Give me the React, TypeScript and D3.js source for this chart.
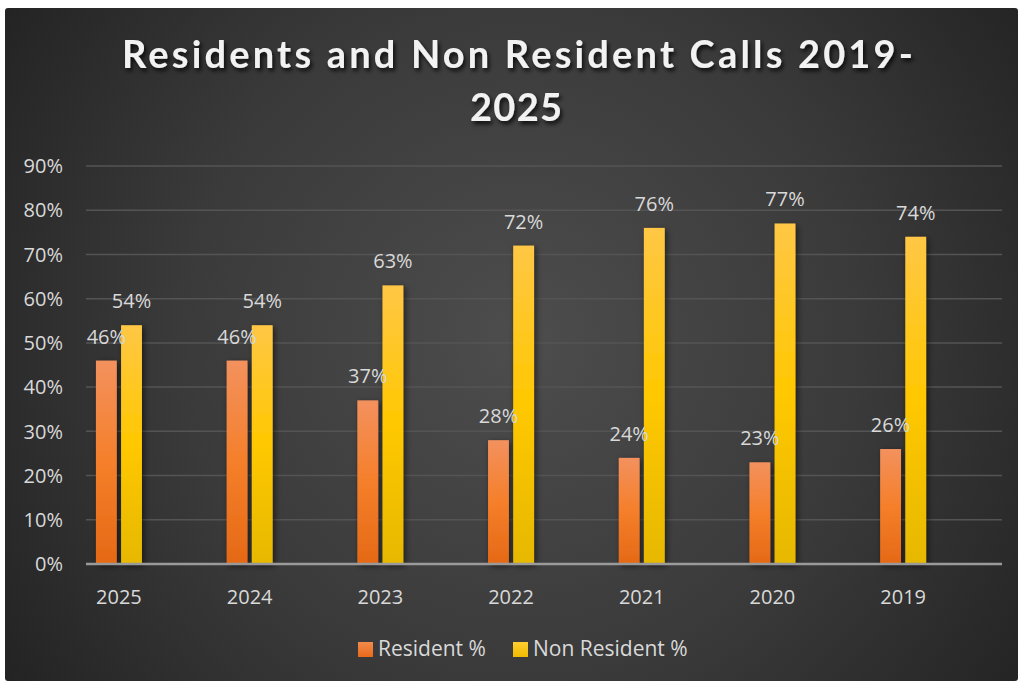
import React from "react";
import * as d3 from "d3";

const years = ["2025", "2024", "2023", "2022", "2021", "2020", "2019"];
const residentPct = [46, 46, 37, 28, 24, 23, 26];
const nonResidentPct = [54, 54, 63, 72, 76, 77, 74];
const yTicks = [0, 10, 20, 30, 40, 50, 60, 70, 80, 90];
const seriesNames = ["Resident %", "Non Resident %"];
const titleLines = ["Residents and Non Resident Calls 2019-", "2025"];

const W = 1018;
const H = 681;
const FONT = "'Open Sans', Lato, sans-serif";
const TITLE_FONT = "Lato, 'Open Sans', sans-serif";

export default function App() {
  const plotLeft = 86;
  const plotRight = 1002;
  const y = d3.scaleLinear().domain([0, 90]).range([564, 166]);
  const x = d3.scaleBand<string>().domain(years).range([53.6, 53.6 + 7 * 130.7]).padding(0);
  const sub = d3.scaleBand<string>().domain(["res", "non"]).range([-23, 23]).paddingInner(0.17);
  const series = [
    { key: "res", values: residentPct, grad: "url(#gRes)" },
    { key: "non", values: nonResidentPct, grad: "url(#gNon)" },
  ];
  const center = (yr: string) => (x(yr) as number) + x.bandwidth() / 2;

  return (
    <svg width={W} height={H} style={{ position: "absolute", left: 0, top: 0 }} fontFamily={FONT}>
      <defs>
        <radialGradient id="bg" gradientUnits="userSpaceOnUse" cx={520} cy={340} r={620}>
          <stop offset="0" stopColor="#4d4d4d" />
          <stop offset="0.55" stopColor="#3a3a3a" />
          <stop offset="1" stopColor="#232323" />
        </radialGradient>
        <linearGradient id="gRes" x1="0" y1="0" x2="0" y2="1">
          <stop offset="0" stopColor="#f3915e" />
          <stop offset="0.5" stopColor="#f57f2a" />
          <stop offset="1" stopColor="#e56916" />
        </linearGradient>
        <linearGradient id="gNon" x1="0" y1="0" x2="0" y2="1">
          <stop offset="0" stopColor="#ffc745" />
          <stop offset="0.5" stopColor="#ffc800" />
          <stop offset="1" stopColor="#e6b800" />
        </linearGradient>
        <linearGradient id="lRes" x1="0" y1="0" x2="0" y2="1">
          <stop offset="0" stopColor="#f48a4c" />
          <stop offset="1" stopColor="#e86a1a" />
        </linearGradient>
        <linearGradient id="lNon" x1="0" y1="0" x2="0" y2="1">
          <stop offset="0" stopColor="#ffcf30" />
          <stop offset="1" stopColor="#f0bb00" />
        </linearGradient>
        <filter id="barShadow" x="-50%" y="-10%" width="200%" height="120%">
          <feDropShadow dx="2" dy="2" stdDeviation="3" floodColor="#000" floodOpacity="0.55" />
        </filter>
        <filter id="titleShadow" x="-10%" y="-30%" width="120%" height="160%">
          <feDropShadow dx="2" dy="3" stdDeviation="2" floodColor="#000" floodOpacity="0.8" />
        </filter>
      </defs>

      <rect x={0} y={0} width={W} height={H} fill="#ffffff" />
      <rect x={5} y={8} width={W - 5} height={H - 8} rx={3} fill="url(#bg)" />

      {/* Title */}
      <g filter="url(#titleShadow)" fill="#f2f2f2" fontWeight={700} fontSize={38} textAnchor="middle" fontFamily={TITLE_FONT}>
        <text x={517.5} y={68} textLength={791} lengthAdjust="spacing">{titleLines[0]}</text>
        <text x={516} y={121} textLength={92} lengthAdjust="spacing">{titleLines[1]}</text>
      </g>

      {/* Gridlines */}
      {yTicks.filter((t) => t > 0).map((t) => (
        <line key={t} x1={plotLeft} x2={plotRight} y1={y(t)} y2={y(t)} stroke="#545454" strokeWidth={1.5} />
      ))}

      {/* Y tick labels */}
      {yTicks.map((t) => (
        <text key={t} x={63} y={y(t)} dy="0.36em" textAnchor="end" fill="#d9d9d9" fontSize={20}>
          {t}%
        </text>
      ))}

      {/* Bars */}
      {series.map((s) => (
        <g key={s.key} filter="url(#barShadow)">
          {years.map((yr, i) => (
            <rect
              key={yr}
              x={center(yr) + (sub(s.key) as number)}
              y={y(s.values[i])}
              width={sub.bandwidth()}
              height={y(0) - y(s.values[i])}
              fill={s.grad}
            />
          ))}
        </g>
      ))}

      {/* Axis line */}
      <line x1={plotLeft} x2={plotRight} y1={y(0)} y2={y(0)} stroke="#9a9a9a" strokeWidth={2.5} />

      {/* Data labels */}
      {series.map((s) =>
        years.map((yr, i) => (
          <text
            key={s.key + yr}
            x={center(yr) + (sub(s.key) as number) + sub.bandwidth() / 2}
            y={y(s.values[i]) - 17}
            textAnchor="middle"
            fill="#d9d9d9"
            fontSize={20}
          >
            {s.values[i]}%
          </text>
        ))
      )}

      {/* X labels */}
      {years.map((yr) => (
        <text key={yr} x={center(yr)} y={604} textAnchor="middle" fill="#d9d9d9" fontSize={20}>
          {yr}
        </text>
      ))}

      {/* Legend */}
      <g fontSize={21} fill="#d9d9d9">
        <rect x={358} y={642} width={15} height={15} fill="url(#lRes)" />
        <text x={378} y={656}>{seriesNames[0]}</text>
        <rect x={513} y={642} width={15} height={15} fill="url(#lNon)" />
        <text x={533} y={656}>{seriesNames[1]}</text>
      </g>
    </svg>
  );
}
